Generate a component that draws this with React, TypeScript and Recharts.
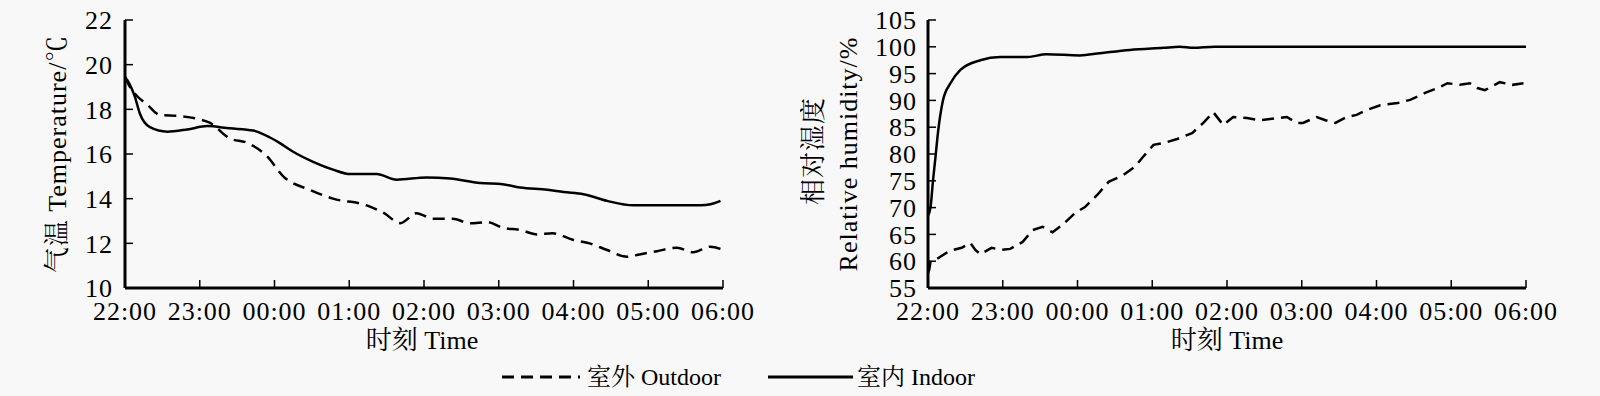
import React from 'react';
import { LineChart, Line, XAxis, YAxis, Label } from 'recharts';

const FONT = '"Liberation Serif", "Times New Roman", "Noto Serif CJK SC", "Noto Sans CJK SC", serif';

// x values are minutes after 22:00
const timeTicks = [0, 60, 120, 180, 240, 300, 360, 420, 480];
const timeLabels = ['22:00', '23:00', '00:00', '01:00', '02:00', '03:00', '04:00', '05:00', '06:00'];
const tempTicks = [10, 12, 14, 16, 18, 20, 22];
const humTicks = [55, 60, 65, 70, 75, 80, 85, 90, 95, 100, 105];

const outdoorTempTime = [0, 2, 8, 18, 28, 44, 60, 68, 84, 98, 114, 127, 148, 167, 194, 208, 221, 234, 247, 263, 277, 291, 303, 317, 331, 343, 360, 373, 387, 403, 413, 427, 443, 456, 470, 478];
const outdoorTempValue = [19.45, 19.2, 18.7, 18.2, 17.75, 17.7, 17.55, 17.4, 16.7, 16.5, 15.9, 15.0, 14.4, 14.0, 13.7, 13.35, 12.9, 13.35, 13.1, 13.1, 12.9, 12.95, 12.7, 12.6, 12.4, 12.45, 12.15, 12.0, 11.7, 11.4, 11.5, 11.65, 11.8, 11.6, 11.85, 11.75];

const indoorTempTime = [0, 2, 8, 12, 20, 34, 50, 66, 84, 103, 116, 124, 135, 151, 167, 181, 202, 218, 242, 261, 285, 303, 317, 339, 352, 368, 387, 408, 421, 462, 470, 478];
const indoorTempValue = [19.45, 19.3, 18.55, 17.8, 17.2, 17.0, 17.1, 17.25, 17.15, 17.05, 16.75, 16.5, 16.1, 15.65, 15.3, 15.1, 15.1, 14.85, 14.95, 14.9, 14.7, 14.65, 14.5, 14.4, 14.3, 14.2, 13.9, 13.7, 13.7, 13.7, 13.75, 13.9];

const outdoorHumTime = [0, 1, 2, 7, 17, 27, 34, 38, 42, 51, 59, 66, 76, 84, 92, 100, 108, 118, 126, 136, 145, 157, 166, 172, 181, 190, 200, 212, 221, 229, 237, 245, 256, 266, 280, 288, 296, 301, 312, 319, 327, 336, 344, 352, 363, 377, 387, 399, 409, 417, 427, 435, 441, 447, 459, 469, 478];
const outdoorHumValue = [57.8, 58.4, 59.9, 60.4, 61.9, 62.5, 63.4, 62.1, 61.3, 62.5, 62.1, 62.3, 63.6, 65.8, 66.4, 65.4, 66.8, 69.0, 70.1, 72.4, 74.8, 76.1, 77.6, 79.3, 81.7, 82.1, 82.8, 83.9, 85.8, 87.8, 85.4, 86.9, 86.7, 86.3, 86.7, 86.9, 85.8, 85.8, 86.9, 86.3, 85.8, 86.9, 87.3, 88.2, 89.1, 89.5, 90.1, 91.4, 92.3, 93.2, 92.9, 93.2, 92.3, 91.9, 93.4, 92.9, 93.2];

const indoorHumTime = [0, 2, 4, 6, 8, 12, 18, 26, 42, 58, 80, 95, 122, 138, 162, 189, 202, 213, 230, 480];
const indoorHumValue = [68.5, 70, 75, 79.4, 84, 90, 93.2, 95.7, 97.5, 98.1, 98.1, 98.6, 98.4, 98.8, 99.4, 99.8, 100, 99.8, 100, 100];

const rows = (ts: number[], vs: number[]) => ts.map((t, i) => ({ t, v: vs[i] }));

const outdoorTemp = rows(outdoorTempTime, outdoorTempValue);
const indoorTemp = rows(indoorTempTime, indoorTempValue);
const outdoorHum = rows(outdoorHumTime, outdoorHumValue);
const indoorHum = rows(indoorHumTime, indoorHumValue);

const tickStyle = { fill: '#000', fontSize: 26, fontFamily: FONT, letterSpacing: 1 };
const axisLine = { stroke: '#000', strokeWidth: 3 };
const tickLine = { stroke: '#000', strokeWidth: 1.5 };
const DASH = '12 7';

const xFmt = (v: number) => timeLabels[timeTicks.indexOf(v)] ?? '';

const CHART_H = 396;
const MARGIN_TOP = 20;
const PLOT_H = 268;
const X_AXIS_H = 60;

function XTitle({ cx }: { cx: number }) {
  return (
    <text x={cx} y={340} textAnchor="middle" dominantBaseline="central" fontSize={26} fontFamily={FONT} fill="#000">
      时刻 Time
    </text>
  );
}

function VTitle({ x, y, text }: { x: number; y: number; text: string }) {
  return (
    <text
      x={x}
      y={y}
      transform={`rotate(-90 ${x} ${y})`}
      textAnchor="middle"
      dominantBaseline="central"
      fontSize={26}
      fontFamily={FONT}
      fill="#000"
      style={{ letterSpacing: 1 }}
    >
      {text}
    </text>
  );
}

function TempChart() {
  const cy = MARGIN_TOP + PLOT_H / 2;
  return (
    <LineChart
      width={760}
      height={CHART_H}
      margin={{ top: MARGIN_TOP, right: 37, left: 65, bottom: CHART_H - MARGIN_TOP - PLOT_H - X_AXIS_H }}
    >
      <XAxis
        dataKey="t"
        type="number"
        domain={[0, 480]}
        ticks={timeTicks}
        tickFormatter={xFmt}
        tick={tickStyle}
        axisLine={axisLine}
        tickLine={tickLine}
        tickSize={-8}
        tickMargin={22}
        height={X_AXIS_H}
        interval={0}
      >
        <Label content={() => <XTitle cx={422} />} />
      </XAxis>
      <YAxis
        type="number"
        domain={[10, 22]}
        ticks={tempTicks}
        tick={tickStyle}
        axisLine={axisLine}
        tickLine={tickLine}
        tickSize={-8}
        tickMargin={20}
        width={60}
        interval={0}
      >
        <Label content={() => <VTitle x={57} y={cy} text="气温 Temperature/℃" />} />
      </YAxis>
      <Line data={outdoorTemp} dataKey="v" type="monotone" stroke="#000" strokeWidth={2.5} strokeDasharray={DASH} dot={false} isAnimationActive={false} />
      <Line data={indoorTemp} dataKey="v" type="monotone" stroke="#000" strokeWidth={2.5} dot={false} isAnimationActive={false} />
    </LineChart>
  );
}

function HumChart() {
  const cy = MARGIN_TOP + PLOT_H / 2;
  return (
    <LineChart
      width={800}
      height={CHART_H}
      margin={{ top: MARGIN_TOP, right: 74, left: 68, bottom: CHART_H - MARGIN_TOP - PLOT_H - X_AXIS_H }}
    >
      <XAxis
        dataKey="t"
        type="number"
        domain={[0, 480]}
        ticks={timeTicks}
        tickFormatter={xFmt}
        tick={tickStyle}
        axisLine={axisLine}
        tickLine={tickLine}
        tickSize={-8}
        tickMargin={22}
        height={X_AXIS_H}
        interval={0}
      >
        <Label content={() => <XTitle cx={427} />} />
      </XAxis>
      <YAxis
        type="number"
        domain={[55, 105]}
        ticks={humTicks}
        tick={tickStyle}
        axisLine={axisLine}
        tickLine={tickLine}
        tickSize={-8}
        tickMargin={19}
        width={60}
        interval={0}
      >
        <Label
          content={() => (
            <g>
              <VTitle x={13} y={cy - 3} text="相对湿度" />
              <VTitle x={48} y={cy} text="Relative humidity/%" />
            </g>
          )}
        />
      </YAxis>
      <Line data={outdoorHum} dataKey="v" type="linear" stroke="#000" strokeWidth={2.5} strokeDasharray={DASH} dot={false} isAnimationActive={false} />
      <Line data={indoorHum} dataKey="v" type="monotone" stroke="#000" strokeWidth={2.5} dot={false} isAnimationActive={false} />
    </LineChart>
  );
}

function LegendRow() {
  return (
    <svg width={1600} height={56} style={{ position: 'absolute', left: 0, top: 340 }}>
      <line x1={502} y1={37} x2={580} y2={37} stroke="#000" strokeWidth={3} strokeDasharray={DASH} />
      <text x={587} y={37} dominantBaseline="central" fontSize={24} fontFamily={FONT} fill="#000">
        室外 Outdoor
      </text>
      <line x1={768} y1={37} x2={853} y2={37} stroke="#000" strokeWidth={3} />
      <text x={857} y={37} dominantBaseline="central" fontSize={24} fontFamily={FONT} fill="#000">
        室内 Indoor
      </text>
    </svg>
  );
}

export default function App() {
  return (
    <div style={{ position: 'absolute', left: 0, top: 0, width: 1600, height: 396, background: '#f8f8f8', overflow: 'hidden' }}>
      <div style={{ position: 'absolute', left: 0, top: 0 }}>
        <TempChart />
      </div>
      <div style={{ position: 'absolute', left: 800, top: 0 }}>
        <HumChart />
      </div>
      <LegendRow />
    </div>
  );
}
